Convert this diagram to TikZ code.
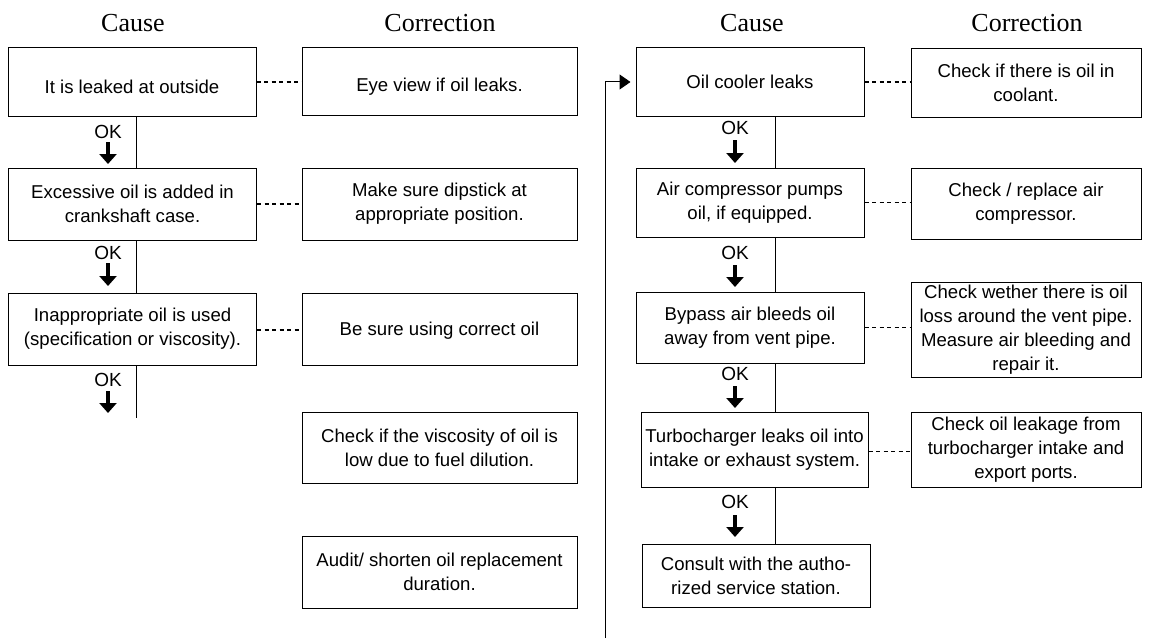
\documentclass[tikz,border=0pt]{standalone}
\usepackage{fontspec}
\setmainfont{Liberation Sans}
\newfontfamily\headfont{Liberation Serif}
\usetikzlibrary{arrows.meta}
% lower a line of text inside its box without changing the box
\newcommand{\lowertext}[2]{\raisebox{-#1}[\height][\depth]{#2}}
\begin{document}
\begin{tikzpicture}[x=1pt,y=1pt,
  box/.style={draw=black, line width=1pt, align=center, inner sep=2pt,
    font=\fontsize{18.6}{24}\selectfont},
  causebox/.style={box, minimum width=248pt},
  fixbox/.style={box, minimum width=230pt},
  head/.style={font=\headfont\fontsize{26}{30}\selectfont},
  oklabel/.style={font=\fontsize{19}{22}\selectfont, inner sep=0pt},
  okarrow/.style={line width=4.5pt, -{Triangle[width=17pt,length=10pt]}},
  link/.style={line width=1.2pt, dash pattern=on 4pt off 3.5pt},
  flow/.style={line width=1pt},
  feedback/.style={line width=1pt, -{Triangle[width=15pt,length=11pt]}}
]
\useasboundingbox (0,0) rectangle (1152,-642);

% column headings
\node[head] (h1) at (133,-23) {Cause};
\node[head] (h2) at (440,-23) {Correction};
\node[head] (h3) at (752,-23) {Cause};
\node[head] (h4) at (1027,-23) {Correction};

% left causes
\node[causebox, minimum height=68pt] (c1) at (132,-82) {\lowertext{5pt}{It is leaked at outside}};
\node[causebox, minimum height=72pt] (c2) at (132.5,-204) {Excessive oil is added in\\crankshaft case.};
\node[causebox, minimum height=72pt] (c3) at (132.5,-329) {Inappropriate oil is used\\(specification or viscosity).};

% left corrections
\node[box, minimum width=275pt, minimum height=67pt] (k1) at (439.5,-81.5) {\lowertext{5pt}{Eye view if oil leaks.}};
\node[box, minimum width=275pt, minimum height=72pt] (k2) at (439.5,-204) {Make sure dipstick at\\appropriate position.};
\node[box, minimum width=275pt, minimum height=72pt] (k3) at (439.5,-329) {\lowertext{2pt}{Be sure using correct oil}};
\node[box, minimum width=275pt, minimum height=71pt] (k4) at (439.5,-447.5) {Check if the viscosity of oil is\\low due to fuel dilution.};
\node[box, minimum width=275pt, minimum height=72pt] (k5) at (439.5,-572) {Audit/ shorten oil replacement\\duration.};

% right causes
\node[box, minimum width=228pt, minimum height=68pt] (r1) at (750,-82) {Oil cooler leaks};
\node[box, minimum width=228pt, minimum height=69pt] (r2) at (750,-202.5) {Air compressor pumps\\oil, if equipped.};
\node[box, minimum width=228pt, minimum height=71pt] (r3) at (750,-327.5) {Bypass air bleeds oil\\away from vent pipe.};
\node[box, minimum width=227pt, minimum height=75pt] (r4) at (754.5,-449.5) {Turbocharger leaks oil into\\intake or exhaust system.};
\node[box, minimum width=228pt, minimum height=63pt] (r5) at (756,-575.5) {Consult with the autho-\\rized service station.};

% right corrections
\node[fixbox, minimum height=68pt] (q1) at (1026,-83) {Check if there is oil in\\coolant.};
\node[fixbox, minimum height=71pt] (q2) at (1026,-203.5) {Check / replace air\\compressor.};
\node[fixbox, minimum height=95pt] (q3) at (1026,-329.5) {Check wether there is oil\\loss around the vent pipe.\\Measure air bleeding and\\repair it.};
\node[fixbox, minimum height=75pt] (q4) at (1026,-449.5) {Check oil leakage from\\turbocharger intake and\\export ports.};

% dotted links between cause and correction
\draw[link] (c1.east) -- (c1.east -| k1.west);
\draw[link] (c2.east) -- (c2.east -| k2.west);
\draw[link] ([yshift=-1pt]c3.east) -- ([yshift=-1pt]c3.east -| k3.west);
\draw[link] (r1.east) -- (r1.east -| q1.west);
\draw[link] (r2.east) -- (r2.east -| q2.west);
\draw[link] (r3.east) -- (r3.east -| q3.west);
\draw[link] ([yshift=-2pt]r4.east) -- ([yshift=-2pt]r4.east -| q4.west);

% vertical flow lines
\coordinate (lx) at (136,0);
\coordinate (rx) at (775,0);
\coordinate (lend) at (136,-418);
\draw[flow] (c1.south -| lx) -- (c2.north -| lx);
\draw[flow] (c2.south -| lx) -- (c3.north -| lx);
\draw[flow] (c3.south -| lx) -- (lend);
\draw[flow] (r1.south -| rx) -- (r2.north -| rx);
\draw[flow] (r2.south -| rx) -- (r3.north -| rx);
\draw[flow] (r3.south -| rx) -- (r4.north -| rx);
\draw[flow] (r4.south -| rx) -- (r5.north -| rx);

% OK markers, left
\node[oklabel] (ok1) at (108,-132) {OK};
\node[oklabel] (ok2) at (108,-253) {OK};
\node[oklabel] (ok3) at (108,-380) {OK};
\coordinate (a1s) at (108,-142); \coordinate (a1e) at (108,-164);
\coordinate (a2s) at (108,-263); \coordinate (a2e) at (108,-286);
\coordinate (a3s) at (108,-391); \coordinate (a3e) at (108,-413);
\draw[okarrow] (a1s) -- (a1e);
\draw[okarrow] (a2s) -- (a2e);
\draw[okarrow] (a3s) -- (a3e);

% OK markers, right
\node[oklabel] (ok4) at (735,-128) {OK};
\node[oklabel] (ok5) at (735,-253) {OK};
\node[oklabel] (ok6) at (735,-374) {OK};
\node[oklabel] (ok7) at (735,-502) {OK};
\coordinate (a4s) at (735,-140); \coordinate (a4e) at (735,-163);
\coordinate (a5s) at (735,-265); \coordinate (a5e) at (735,-287);
\coordinate (a6s) at (735,-386); \coordinate (a6e) at (735,-408);
\coordinate (a7s) at (735,-515); \coordinate (a7e) at (735,-537);
\draw[okarrow] (a4s) -- (a4e);
\draw[okarrow] (a5s) -- (a5e);
\draw[okarrow] (a6s) -- (a6e);
\draw[okarrow] (a7s) -- (a7e);

% return line into the right-hand column
\coordinate (fb) at (605,-638);
\draw[feedback] (fb) |- ([xshift=-5pt]r1.west);
\end{tikzpicture}
\end{document}
